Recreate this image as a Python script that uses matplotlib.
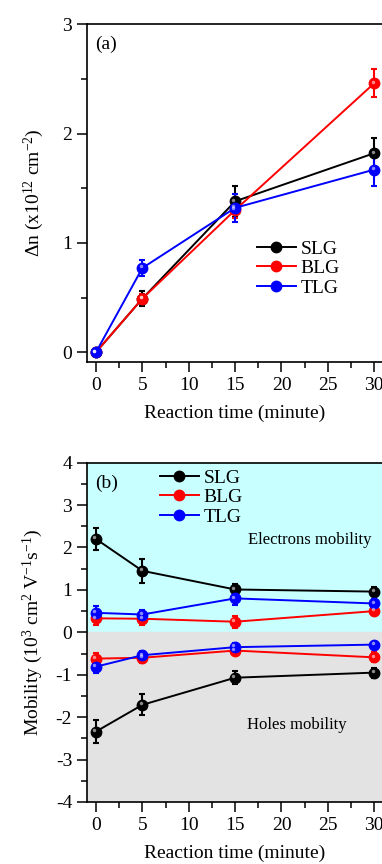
import numpy as np
import matplotlib
matplotlib.use('Agg')
import matplotlib.pyplot as plt
import matplotlib.transforms as mtransforms
from matplotlib.ticker import MultipleLocator

plt.rcParams['font.family'] = ['Liberation Serif', 'DejaVu Serif']
plt.rcParams['mathtext.fontset'] = 'custom'
plt.rcParams['mathtext.rm'] = 'Liberation Serif'
plt.rcParams['mathtext.it'] = 'Liberation Serif:italic'
plt.rcParams['axes.unicode_minus'] = False

#%% Data
time = [0, 5, 15, 30]
labels = ['SLG', 'BLG', 'TLG']
colors = ['black', 'red', 'blue']

# panel (a): carrier density change
dn_slg = [0, 0.49, 1.38, 1.82]
dn_blg = [0, 0.49, 1.30, 2.46]
dn_tlg = [0, 0.77, 1.32, 1.67]
dn_slg_err = [0, 0.07, 0.14, 0.14]
dn_blg_err = [0, 0.04, 0.07, 0.13]
dn_tlg_err = [0, 0.07, 0.13, 0.15]

# panel (b): electron / hole mobility
mu_e_slg = [2.20, 1.45, 1.01, 0.96]
mu_e_blg = [0.33, 0.32, 0.25, 0.50]
mu_e_tlg = [0.46, 0.42, 0.80, 0.68]
mu_e_slg_err = [0.26, 0.29, 0.13, 0.10]
mu_e_blg_err = [0.15, 0.15, 0.14, 0.10]
mu_e_tlg_err = [0.17, 0.10, 0.16, 0.10]

mu_h_slg = [-2.34, -1.71, -1.07, -0.95]
mu_h_blg = [-0.62, -0.60, -0.43, -0.59]
mu_h_tlg = [-0.81, -0.54, -0.35, -0.29]
mu_h_slg_err = [0.28, 0.25, 0.16, 0.12]
mu_h_blg_err = [0.13, 0.12, 0.08, 0.12]
mu_h_tlg_err = [0.14, 0.10, 0.10, 0.07]

#%% Layout
fig = plt.figure(figsize=(3.82, 8.64), dpi=100)
ax1 = fig.add_axes([0.227, 0.581, 0.777, 0.391])
ax2 = fig.add_axes([0.227, 0.0718, 0.777, 0.3927])

fs = 14
mk = dict(marker='o', markersize=7.5, linewidth=1.4, capsize=2.5,
          elinewidth=1.5, capthick=1.5)


def draw(ax, y, e, c, lab=None):
    cont = ax.errorbar(time, y, yerr=e, color=c, mec=c, mfc=c, label=lab, **mk)
    # little shine on the balls
    shine = mtransforms.offset_copy(ax.transData, fig=fig, x=-1.2, y=1.2,
                                    units='points')
    ax.plot(time, y, 'o', ms=2.5, color='white', alpha=0.55, mec='none',
            transform=shine, zorder=5)
    return cont[0]


def style(ax):
    ax.set_xlim(-1, 31)
    ax.xaxis.set_major_locator(MultipleLocator(5))
    ax.xaxis.set_minor_locator(MultipleLocator(2.5))
    ax.yaxis.set_major_locator(MultipleLocator(1))
    ax.yaxis.set_minor_locator(MultipleLocator(0.5))
    ax.tick_params(which='major', direction='out', length=7, width=1.1,
                   labelsize=fs, top=False, right=False)
    ax.tick_params(which='minor', direction='out', length=4, width=1.1,
                   top=False, right=False)
    for s in ax.spines.values():
        s.set_linewidth(1.2)
    ax.set_xlabel('Reaction time (minute)', fontsize=fs, labelpad=8)


#%% Panel (a)
dn = [dn_slg, dn_blg, dn_tlg]
dn_err = [dn_slg_err, dn_blg_err, dn_tlg_err]
h1 = [draw(ax1, y, e, c, lab) for y, e, c, lab in zip(dn, dn_err, colors, labels)]
style(ax1)
ax1.set_ylim(-0.09, 3)
ax1.set_ylabel(r'$\Delta$n (x10$^{12}$ cm$^{-2}$)', fontsize=fs, labelpad=12)
ax1.text(0.03, 0.965, '(a)', transform=ax1.transAxes, fontsize=fs, va='top')
ax1.legend(h1, labels, loc='center left', bbox_to_anchor=(0.54, 0.277),
           frameon=False, fontsize=fs, handlelength=2.0, handletextpad=0.25,
           labelspacing=0.1, borderpad=0)

#%% Panel (b)
ax2.axhspan(0, 4, color='#c8ffff', zorder=0)
ax2.axhspan(-4, 0, color='#e3e3e3', zorder=0)
mu_e = [mu_e_slg, mu_e_blg, mu_e_tlg]
mu_e_err = [mu_e_slg_err, mu_e_blg_err, mu_e_tlg_err]
mu_h = [mu_h_slg, mu_h_blg, mu_h_tlg]
mu_h_err = [mu_h_slg_err, mu_h_blg_err, mu_h_tlg_err]
h2 = [draw(ax2, y, e, c, lab) for y, e, c, lab in zip(mu_e, mu_e_err, colors, labels)]
for y, e, c in zip(mu_h, mu_h_err, colors):
    draw(ax2, y, e, c)
style(ax2)
ax2.set_ylim(-4, 4)
ax2.set_ylabel(r'Mobility (10$^{3}$ cm$^{2}$ V$^{-1}$s$^{-1}$)', fontsize=fs,
               labelpad=8)
ax2.text(0.03, 0.965, '(b)', transform=ax2.transAxes, fontsize=fs, va='top')
ax2.text(0.542, 0.772, 'Electrons mobility', transform=ax2.transAxes,
         fontsize=12, va='center')
ax2.text(0.54, 0.227, 'Holes mobility', transform=ax2.transAxes,
         fontsize=12, va='center')
ax2.legend(h2, labels, loc='upper left', bbox_to_anchor=(0.213, 1.01),
           frameon=False, fontsize=fs, handlelength=2.0, handletextpad=0.25,
           labelspacing=0.1, borderpad=0)

plt.savefig('out.png', dpi=100)
